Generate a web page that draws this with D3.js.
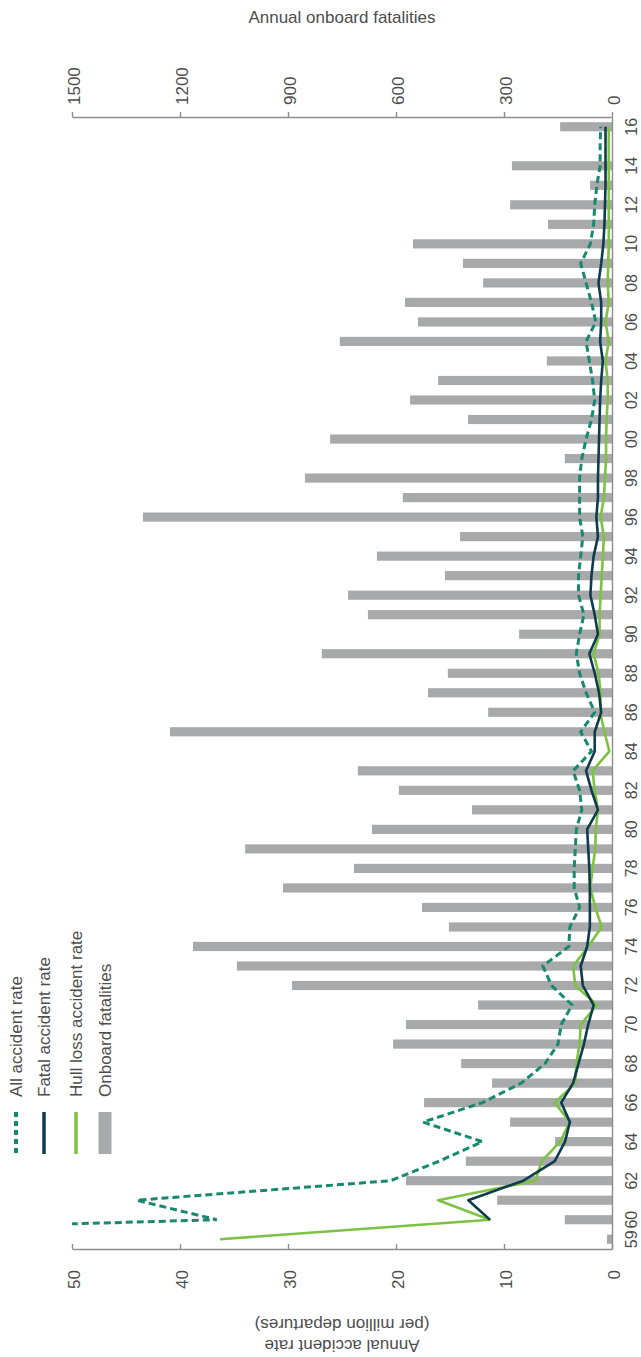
<!DOCTYPE html>
<html>
<head>
<meta charset="utf-8">
<script src="https://cdn.jsdelivr.net/npm/d3@7"></script>
<style>
  html, body { margin: 0; padding: 0; background: #fff; }
  svg { display: block; font-family: "Liberation Sans", Arial, Helvetica, sans-serif; }
</style>
</head>
<body>
<svg id="chart" width="641" height="1357"></svg>
<script>
// Years 1959-2016
const years = [1959,1960,1961,1962,1963,1964,1965,1966,1967,1968,1969,1970,1971,1972,1973,1974,1975,1976,1977,1978,
  1979,1980,1981,1982,1983,1984,1985,1986,1987,1988,1989,1990,1991,1992,1993,1994,1995,1996,1997,1998,
  1999,2000,2001,2002,2003,2004,2005,2006,2007,2008,2009,2010,2011,2012,2013,2014,2015,2016];

// Annual onboard fatalities
const onboardFatalities = [14,131,319,572,406,158,283,522,333,419,608,572,372,889,1042,1164,453,528,914,717,
  1019,667,389,592,706,0,1228,344,511,456,806,258,678,733,464,653,422,1303,581,853,
  131,783,400,561,483,181,756,539,575,358,414,553,178,283,61,278,0,144];

// Accident rates per million departures
const allAccidentRate = [100,36.6,44,20.5,16,12,17.5,12,8.4,6.2,5.0,4.7,3.7,5.6,6.4,4.0,3.9,3.0,3.5,3.5,
  3.4,3.3,2.8,3.0,3.6,1.9,2.9,1.6,2.4,3.0,3.3,3.0,2.6,3.1,3.1,2.9,2.7,3.0,3.0,3.0,
  2.8,2.4,1.9,1.6,1.8,2.1,2.4,1.5,1.9,2.4,2.9,2.0,1.7,1.6,1.4,1.1,1.1,1.05];
const fatalAccidentRate = [null,11.3,13.3,8.2,5.3,4.35,3.9,4.7,3.6,3.1,2.6,2.2,1.7,2.7,2.9,2.3,2.05,2.05,2.05,2.1,
  2.2,2.3,1.3,1.9,2.4,1.6,1.6,1.0,1.2,1.6,2.1,1.3,1.6,2.0,1.9,1.7,1.3,1.45,1.3,1.3,
  1.25,1.2,1.15,1.1,1.0,0.85,1.1,1.0,1.0,1.25,1.0,0.8,0.7,0.65,0.6,0.6,0.6,0.6];
const hullLossAccidentRate = [36.3,11.3,16.1,7.1,6.5,4.8,3.9,5.3,3.4,3.3,3.0,2.9,1.4,3.4,3.6,2.2,0.95,1.55,2.0,1.8,
  1.55,1.5,1.3,1.6,1.8,0.25,0.7,1.1,1.05,1.25,1.7,1.15,1.15,1.05,0.95,0.85,0.75,1.05,0.75,0.65,
  0.55,0.55,0.5,0.4,0.4,0.6,0.3,0.6,0.3,0.4,0.35,0.3,0.3,0.3,0.3,0.3,0.3,0.3];

// Axis ticks
const fatalityTicks = [0,300,600,900,1200,1500];
const rateTicks = [0,10,20,30,40,50];
const yearTicks = [1959,1960,1962,1964,1966,1968,1970,1972,1974,1976,1978,1980,1982,1984,1986,1988,
  1990,1992,1994,1996,1998,2000,2002,2004,2006,2008,2010,2012,2014,2016];

const seriesNames = ["All accident rate","Fatal accident rate","Hull loss accident rate","Onboard fatalities"];

const C = {
  all: "#16896f",
  fatal: "#0f3c4c",
  hull: "#7dc243",
  bar: "#a8a9ab",
  axis: "#8d8d8d",
  text: "#4d4d4d"
};

const plot = { left: 72, right: 612, top: 117, bottom: 1249 };
const svg = d3.select("#chart");

// The time axis runs upward, values grow to the left
const y = d3.scaleBand()
  .domain(years.slice().reverse())
  .range([plot.top, plot.bottom])
  .paddingInner(0.53)
  .paddingOuter(0.265);
const xFat = d3.scaleLinear().domain([0, 1500]).range([plot.right, plot.left]);
const xRate = d3.scaleLinear().domain([0, 50]).range([plot.right, plot.left]);
const yc = yr => y(yr) + y.bandwidth() / 2;

svg.append("defs").append("clipPath").attr("id", "plotClip")
  .append("rect")
  .attr("x", plot.left).attr("y", plot.top)
  .attr("width", plot.right - plot.left).attr("height", plot.bottom - plot.top);

// Fatality bars
svg.append("g").selectAll("rect")
  .data(years.map((yr, i) => ({ yr, v: onboardFatalities[i] })))
  .join("rect")
  .attr("x", d => xFat(d.v))
  .attr("y", d => y(d.yr))
  .attr("width", d => xFat(0) - xFat(d.v))
  .attr("height", y.bandwidth())
  .attr("fill", C.bar);

// Rate lines
const lineGen = d3.line()
  .defined(d => d.v != null)
  .x(d => xRate(d.v))
  .y(d => yc(d.yr));
const toPts = arr => years.map((yr, i) => ({ yr, v: arr[i] }));

const lines = svg.append("g").attr("clip-path", "url(#plotClip)");
lines.append("path").attr("d", lineGen(toPts(allAccidentRate)))
  .attr("fill", "none").attr("stroke", C.all).attr("stroke-width", 3)
  .attr("stroke-dasharray", "7,4");
lines.append("path").attr("d", lineGen(toPts(hullLossAccidentRate)))
  .attr("fill", "none").attr("stroke", C.hull).attr("stroke-width", 2.6)
  .attr("stroke-linejoin", "round");
lines.append("path").attr("d", lineGen(toPts(fatalAccidentRate)))
  .attr("fill", "none").attr("stroke", C.fatal).attr("stroke-width", 2.6)
  .attr("stroke-linejoin", "round");

function styleAxis(g) {
  g.select(".domain").attr("stroke", C.axis).attr("stroke-width", 1.4);
  g.selectAll(".tick line").attr("stroke", C.axis).attr("stroke-width", 1.4);
  g.selectAll(".tick text").attr("fill", C.text).attr("font-size", 17)
    .attr("font-family", "Liberation Sans, Arial, sans-serif");
}

// Fatalities axis (top)
const topAxis = svg.append("g")
  .attr("transform", `translate(0,${plot.top})`)
  .call(d3.axisTop(xFat).tickValues(fatalityTicks).tickSize(5).tickSizeOuter(0)
    .tickFormat(d3.format("d")));
styleAxis(topAxis);
topAxis.selectAll(".tick text")
  .attr("x", null).attr("y", null)
  .attr("dy", "0.35em")
  .attr("text-anchor", "start")
  .attr("transform", "translate(2,-12) rotate(-90)");

// Accident rate axis (bottom)
const bottomAxis = svg.append("g")
  .attr("transform", `translate(0,${plot.bottom})`)
  .call(d3.axisBottom(xRate).tickValues(rateTicks).tickSize(-5).tickSizeOuter(0)
    .tickFormat(d3.format("d")));
styleAxis(bottomAxis);
bottomAxis.selectAll(".tick text")
  .attr("x", null).attr("y", null)
  .attr("dy", "0.35em")
  .attr("text-anchor", "end")
  .attr("transform", "translate(2,21) rotate(-90)");

// Year axis (right)
const yearAxis = svg.append("g")
  .attr("transform", `translate(${plot.right},0)`)
  .call(d3.axisRight(y).tickValues(yearTicks).tickSize(0).tickSizeOuter(0)
    .tickFormat(d => String(d).slice(-2)));
styleAxis(yearAxis);
yearAxis.selectAll(".tick text")
  .attr("x", null).attr("y", null)
  .attr("dy", "0.35em")
  .attr("font-size", 16)
  .attr("text-anchor", "middle")
  .attr("transform", "translate(19.5,0) rotate(-90)");

// Axis titles
svg.append("text")
  .attr("x", (plot.left + plot.right) / 2).attr("y", 23)
  .attr("text-anchor", "middle").attr("font-size", 17).attr("fill", C.text)
  .text("Annual onboard fatalities");

const rateTitle = [["Annual accident rate", 1346], ["(per million departures)", 1325]];
svg.append("g").selectAll("text").data(rateTitle).join("text")
  .attr("transform", d => `translate(${(plot.left + plot.right) / 2},${d[1]}) rotate(180)`)
  .attr("dy", "0.35em")
  .attr("text-anchor", "middle").attr("font-size", 17).attr("fill", C.text)
  .text(d => d[0]);

// Legend
const legendX = [16, 44, 76, 105];
const leg = svg.append("g");
const symTop = 1112, symBot = 1154;
seriesNames.forEach((name, i) => {
  const cx = legendX[i];
  if (i === 0) {
    leg.append("line").attr("x1", cx).attr("x2", cx).attr("y1", symTop).attr("y2", symBot)
      .attr("stroke", C.all).attr("stroke-width", 4).attr("stroke-dasharray", "5,4");
  } else if (i === 1) {
    leg.append("line").attr("x1", cx).attr("x2", cx).attr("y1", symTop).attr("y2", symBot)
      .attr("stroke", C.fatal).attr("stroke-width", 3.5);
  } else if (i === 2) {
    leg.append("line").attr("x1", cx).attr("x2", cx).attr("y1", symTop).attr("y2", symBot)
      .attr("stroke", C.hull).attr("stroke-width", 3.5);
  } else {
    leg.append("rect").attr("x", cx - 6.5).attr("y", symTop).attr("width", 13)
      .attr("height", symBot - symTop).attr("fill", C.bar);
  }
  leg.append("text")
    .attr("transform", `translate(${cx},1097) rotate(-90)`)
    .attr("dy", "0.35em")
    .attr("text-anchor", "start").attr("font-size", 17).attr("fill", C.text)
    .text(name);
});
</script>
</body>
</html>
